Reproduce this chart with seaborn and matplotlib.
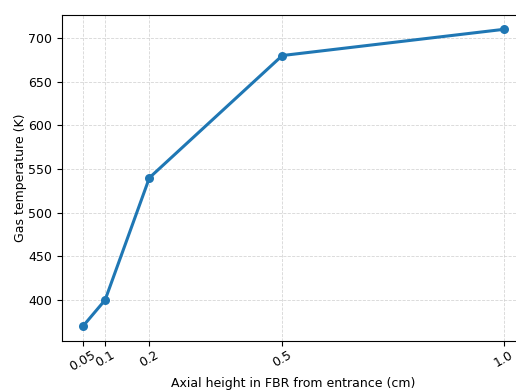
import matplotlib
matplotlib.use("Agg")
import matplotlib.pyplot as plt
import seaborn as sns
import pandas as pd

heights = [0.05, 0.1, 0.2, 0.5, 1.0]
temps = [370, 400, 540, 680, 710]
tick_labels = ["0.05", "0.1", "0.2", "0.5", "1.0"]

df = pd.DataFrame({"h": heights, "T": temps})

fig = plt.figure(figsize=(5.16, 3.92), dpi=100)
ax = fig.add_axes([0.120, 0.130, 0.897, 0.833])
sns.lineplot(data=df, x="h", y="T", ax=ax, marker="o", markersize=6.5,
             markeredgewidth=0, linewidth=2.2, color="#1f77b4")
ax.set_xticks(heights)
ax.set_xticklabels(tick_labels, rotation=30, fontsize=9)
ax.tick_params(axis="x", pad=2)
ax.tick_params(axis="y", labelsize=9)
ax.grid(True, linestyle="--", linewidth=0.6, color="#cccccc", alpha=0.8)
ax.set_xlabel("Axial height in FBR from entrance (cm)", fontsize=9, labelpad=2)
ax.set_ylabel("Gas temperature (K)", fontsize=9, labelpad=1)
fig.savefig("out.png", dpi=100)
